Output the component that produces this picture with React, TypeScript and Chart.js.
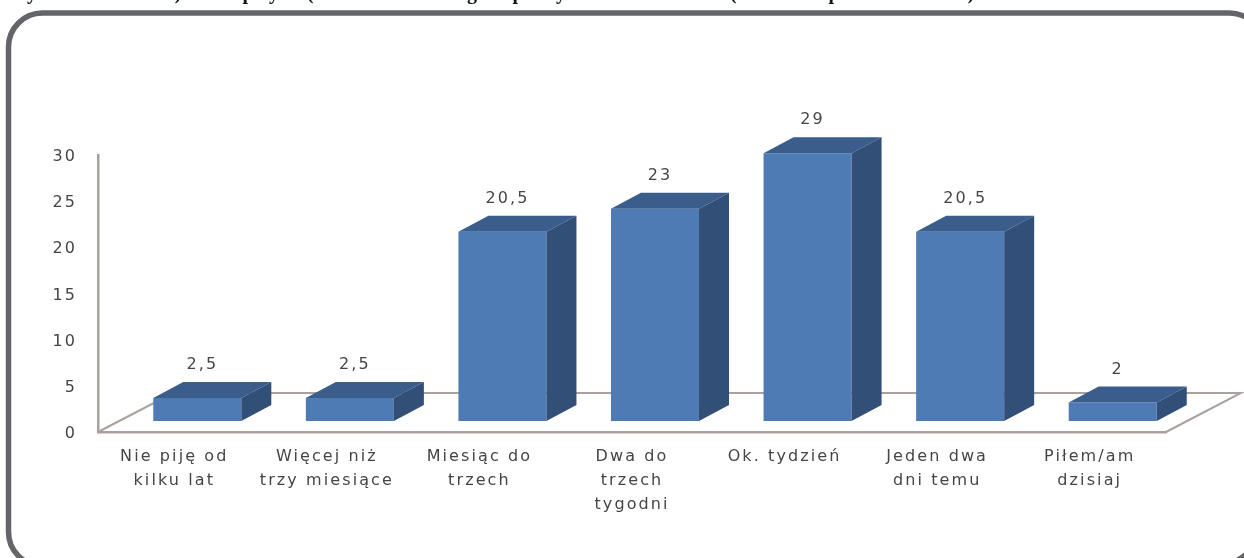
import React, { useEffect, useRef } from "react";
import { Chart, registerables } from "chart.js";

Chart.register(...registerables);

const categories: string[][] = [
  ["Nie piję od", "kilku lat"],
  ["Więcej niż", "trzy miesiące"],
  ["Miesiąc do", "trzech"],
  ["Dwa do", "trzech", "tygodni"],
  ["Ok. tydzień"],
  ["Jeden dwa", "dni temu"],
  ["Piłem/am", "dzisiaj"],
];
const values: number[] = [2.5, 2.5, 20.5, 23, 29, 20.5, 2];
const valueLabels: string[] = ["2,5", "2,5", "20,5", "23", "29", "20,5", "2"];

// Only the descenders of the cropped heading above the frame are legible.
const headingGlyphs: string[] = ["y", ")", "p", "y", "(", "g", "p", "y", "(", "p", ")"];
const headingGlyphX: number[] = [32, 178, 248, 274, 310, 472, 518, 561, 733, 834, 971];

const FONT = '"DejaVu Sans", sans-serif';
const AXIS = "#a8a19e";
const TEXT = "#454545";
const SPACING = "2.1px";
const FLOOR_DX = 75;
const FLOOR_DY = 39;
const BAR_SHIFT_X = 23;
const BAR_SHIFT_Y = 11;
const BAR_DX = 30;
const BAR_DY = 16;

const chart3d = {
  id: "chart3d",
  beforeDraw(chart: any) {
    const { ctx, width, height } = chart;
    ctx.save();
    ctx.fillStyle = "#ffffff";
    ctx.fillRect(0, 0, width, height);
    ctx.strokeStyle = "#646569";
    ctx.lineWidth = 5.5;
    ctx.beginPath();
    ctx.roundRect(8.5, 13, 1255.5, 553, [34, 35, 50, 34]);
    ctx.stroke();
    ctx.fillStyle = "#111111";
    ctx.font = 'bold 20px "Liberation Serif", serif';
    ctx.textAlign = "center";
    ctx.textBaseline = "alphabetic";
    (ctx as any).letterSpacing = "0px";
    headingGlyphs.forEach((g, i) => ctx.fillText(g, headingGlyphX[i], -1));
    ctx.restore();
    (ctx as any).letterSpacing = SPACING;
  },
  beforeDatasetsDraw(chart: any) {
    const { ctx, chartArea } = chart;
    const { left, right, bottom } = chartArea;
    ctx.save();
    ctx.strokeStyle = AXIS;
    ctx.lineWidth = 2;
    ctx.beginPath();
    ctx.moveTo(left, bottom);
    ctx.lineTo(left + FLOOR_DX, bottom - FLOOR_DY);
    ctx.lineTo(right + FLOOR_DX, bottom - FLOOR_DY);
    ctx.lineTo(right, bottom);
    ctx.stroke();
    ctx.restore();
    ctx.save();
    ctx.translate(BAR_SHIFT_X, -BAR_SHIFT_Y);
  },
  afterDatasetsDraw(chart: any) {
    const { ctx } = chart;
    const bars = chart.getDatasetMeta(0).data;
    bars.forEach((bar: any) => {
      const l = bar.x - bar.width / 2;
      const r = bar.x + bar.width / 2;
      const t = bar.y;
      const b = bar.base;
      ctx.fillStyle = "#3a5d8c";
      ctx.beginPath();
      ctx.moveTo(l, t);
      ctx.lineTo(l + BAR_DX, t - BAR_DY);
      ctx.lineTo(r + BAR_DX, t - BAR_DY);
      ctx.lineTo(r, t);
      ctx.closePath();
      ctx.fill();
      ctx.fillStyle = "#324f78";
      ctx.beginPath();
      ctx.moveTo(r, t);
      ctx.lineTo(r + BAR_DX, t - BAR_DY);
      ctx.lineTo(r + BAR_DX, b - BAR_DY);
      ctx.lineTo(r, b);
      ctx.closePath();
      ctx.fill();
    });
    ctx.restore();
    ctx.save();
    ctx.fillStyle = TEXT;
    ctx.font = `16px ${FONT}`;
    ctx.textAlign = "center";
    ctx.textBaseline = "middle";
    bars.forEach((bar: any, i: number) => {
      ctx.fillText(valueLabels[i], bar.x + BAR_SHIFT_X + 5, bar.y - BAR_SHIFT_Y - 33);
    });
    ctx.restore();
  },
};

export default function App() {
  const ref = useRef<HTMLCanvasElement | null>(null);
  useEffect(() => {
    if (!ref.current) return;
    const chart = new Chart(ref.current, {
      type: "bar",
      data: {
        labels: categories,
        datasets: [
          {
            data: values,
            barPercentage: 0.577,
            categoryPercentage: 1,
            backgroundColor: (c: any) => {
              const bar = c.chart.getDatasetMeta(0).data[c.dataIndex];
              if (!bar || !bar.width) return "#4f7bb5";
              const g = c.chart.ctx.createLinearGradient(bar.x - bar.width / 2, 0, bar.x + bar.width / 2, 0);
              g.addColorStop(0, "#4d79b3");
              g.addColorStop(0.5, "#5080b9");
              g.addColorStop(1, "#4a75ae");
              return g;
            },
          },
        ],
      },
      options: {
        responsive: false,
        animation: false,
        layout: { padding: { top: 155, right: 78, left: 0, bottom: 0 } },
        plugins: { legend: { display: false }, tooltip: { enabled: false } },
        scales: {
          x: {
            grid: { display: false, drawTicks: false },
            border: { color: AXIS, width: 2.5 },
            afterFit: (s: any) => { s.height = 126; },
            ticks: {
              color: TEXT,
              font: { family: FONT, size: 16, lineHeight: 1.5 },
              padding: 13,
              maxRotation: 0,
              autoSkip: false,
            },
          },
          y: {
            min: 0,
            max: 30,
            grid: { display: false, drawTicks: false },
            border: { color: AXIS, width: 2.5 },
            afterFit: (s: any) => { s.width = 98; },
            ticks: {
              stepSize: 5,
              color: TEXT,
              font: { family: FONT, size: 16 },
              padding: 21,
              labelOffset: 2,
            },
          },
        },
      },
      plugins: [chart3d],
    } as any);
    return () => chart.destroy();
  }, []);
  return (
    <div style={{ position: "fixed", left: 0, top: 0 }}>
      <canvas ref={ref} width={1244} height={558} style={{ display: "block", filter: "blur(0.5px)" }} />
    </div>
  );
}
